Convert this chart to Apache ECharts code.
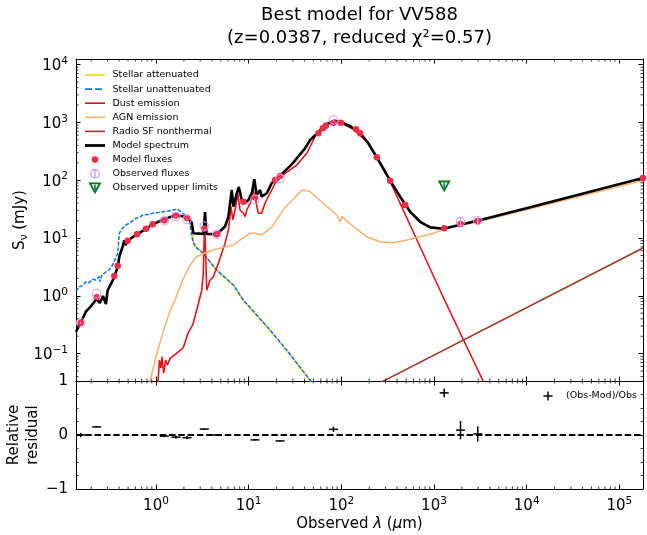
<!DOCTYPE html>
<html><head><meta charset="utf-8">
<script src="https://cdn.jsdelivr.net/npm/echarts@6/dist/echarts.min.js"></script>
<style>html,body{margin:0;padding:0;background:#fff}#c{width:647px;height:535px}</style>
</head><body><div id="c"></div>
<script>
const X_MIN = 0.137, X_MAX = 1.8e5, Y_MIN = 0.0336, Y_MAX = 1.25e4;

const stellarAttenuated = [[0.137,0.239],[0.154,0.343],[0.175,0.531],[0.199,0.666],[0.229,0.881],[0.248,0.751],[0.268,0.993],[0.288,0.721],[0.301,1.25],[0.355,2.11],[0.386,3.19],[0.402,4.75],[0.436,7.08],[0.494,8.98],[0.623,11.6],[0.78,14.4],[0.921,17.3],[1.23,21.1],[1.64,25.0],[2.16,22.9],[2.35,20.0],[2.45,15.0],[2.55,7.75],[3.24,5.38],[4.52,2.75],[6.84,1.51],[8.77,0.831],[17.0,0.25],[25.8,0.1125],[46,0.0338],[50,0.0275]];
const stellarUnattenuated = [[0.137,1.18],[0.149,1.44],[0.162,1.5],[0.175,1.75],[0.19,1.69],[0.207,1.94],[0.225,1.88],[0.244,2.14],[0.248,1.75],[0.258,2.2],[0.27,2.13],[0.288,2.61],[0.31,2.75],[0.34,3.41],[0.386,5.44],[0.402,12.1],[0.436,14.8],[0.474,16.8],[0.515,18.0],[0.56,20.0],[0.608,21.9],[0.66,22.8],[0.718,25.0],[0.82,25.6],[0.921,26.8],[1.05,27.5],[1.18,28.5],[1.35,29.4],[1.51,30.5],[1.71,31.4],[1.94,26.8],[2.29,21.9],[2.43,10.5],[2.64,7.08],[3.24,5.44],[4.52,2.79],[6.84,1.54],[8.77,0.845],[17.0,0.256],[25.8,0.115],[46.0,0.0349],[50,0.0288]];
const dustEmission = [[1.05,0.0313],[1.09,0.0775],[1.13,0.0563],[1.16,0.0883],[1.21,0.0461],[1.27,0.0775],[1.33,0.0635],[1.42,0.083],[1.66,0.101],[1.96,0.125],[2.22,0.228],[2.49,0.313],[2.75,0.568],[3.12,1.26],[3.24,2.45],[3.34,19.6],[3.44,4.75],[3.53,1.25],[3.83,1.88],[4.16,2.14],[4.71,3.65],[5.56,8.1],[6.04,13.8],[6.46,34.9],[6.73,20.5],[7.13,30.5],[7.63,59.4],[8.07,30.5],[8.77,26.8],[9.15,23.4],[9.54,30.5],[10.4,39.9],[11.2,67.8],[11.9,45.5],[12.7,26.8],[13.8,26.8],[15.0,39.9],[17.0,59.4],[19.3,88.5],[21.8,108],[24.7,131],[33.0,183],[42.4,293],[54.3,649],[66.8,901],[82.2,1028],[101,965],[135,760],[188,464],[242,239],[337,94.1],[1298,0.845],[4045,0.0185]];
const agnEmission = [[0.84,0.0275],[0.861,0.0335],[1.0,0.0883],[1.18,0.224],[1.39,0.498],[1.64,0.935],[1.94,1.88],[2.29,3.19],[2.66,4.6],[3.53,5.73],[4.91,6.64],[6.84,7.56],[8.07,9.24],[10.4,12.1],[11.7,12.1],[13.8,11.3],[17.7,15.3],[24.7,33.8],[33.0,54.4],[37.6,66.9],[42,66.3],[46,63.3],[64.1,39.9],[89.3,25.0],[97,19.1],[101,23.4],[135,15.8],[188,10.5],[262,8.63],[366,8.3],[508,9.24],[709,10.5],[988,12.1],[1377,14.8],[3155,19.4],[1.8e5,98.8]];
const radioNonthermal = [[200,0.0251],[1.8e5,6.71]];
const modelSpectrum = [[0.137,0.239],[0.154,0.343],[0.175,0.531],[0.199,0.666],[0.229,0.881],[0.248,0.751],[0.268,0.993],[0.288,0.721],[0.301,1.25],[0.355,2.11],[0.386,3.19],[0.402,4.75],[0.436,7.08],[0.455,9.13],[0.47,7.5],[0.494,8.98],[0.623,11.6],[0.78,14.4],[0.921,17.3],[1.23,21.1],[1.64,25.0],[2.16,22.9],[2.43,18.5],[2.53,12.1],[3.26,11.8],[3.38,28.1],[3.51,11.8],[4.52,11.6],[5.56,15.8],[6.04,23.4],[6.57,67.8],[6.84,34.9],[7.44,59.4],[7.83,76.3],[8.42,45.5],[8.99,39.9],[9.93,45.5],[10.9,62.5],[11.5,104],[12.2,55.5],[13.3,67.8],[13.8,51.9],[15.7,59.4],[17.7,88.5],[21.8,120],[29.2,188],[33.0,238],[40.6,356],[46.0,496],[56.6,675],[69.7,938],[85.7,1071],[101,989],[124,866],[160,649],[196,435],[242,249],[337,98],[431,51.9],[553,28.5],[709,19.1],[910,15.3],[1267,14.5],[1919,17.0],[3155,20.5],[10940,34.0],[1.8e5,109]];

const modelFluxWl = [0.154,0.229,0.355,0.386,0.494,0.623,0.780,0.921,1.23,1.64,2.16,3.32,4.52,8.77,11.7,19.3,21.8,56.6,63.1,68.0,82.2,98.8,144.5,159.7,241.8,336.6,488.6,1288,1932,2965,1.8e5];
const modelFlux   = [0.343,0.941,2.2,3.31,8.98,11.6,14.4,17.3,20.3,24.5,22.1,14.4,11.6,42.5,50.6,101,118,649,790,878,989,989,760,649,249,98,37.3,14.8,17.5,19.6,109];

const obsWl   = [0.154,0.229,1.23,1.64,2.16,3.32,4.52,11.7,21.8,82.2,1932,2965];
const obsFlux = [0.343,1.09,19.9,23.5,21.1,16.1,11.6,46.5,107,1105,19.3,20.0];
const obsRelErr = [0.03,0.02,0.02,0.03,0.03,0.02,0.02,0.02,0.03,0.05,0.17,0.14];

const upperLimits = [[1288,79.4]];

const resWl  = [0.154,0.229,1.23,1.64,2.16,3.32,4.52,11.7,21.8,82.2,1288,1932,2965];
const resVal = [0.0,0.15,-0.02,-0.04,-0.05,0.11,0.0,-0.09,-0.11,0.105,0.78,0.09,0.02];
const resErr = [0.04,0.01,0.02,0.03,0.03,0.01,0.01,0.01,0.01,0.05,0.08,0.17,0.14];

const legendNames = ['Stellar attenuated','Stellar unattenuated','Dust emission','AGN emission','Radio SF nonthermal','Model spectrum','Model fluxes','Observed fluxes','Observed upper limits'];
const residualLegend = '(Obs-Mod)/Obs';
const titleLines = ['Best model for VV588','(z=0.0387, reduced χ²=0.57)'];

const FONT = '"DejaVu Sans", sans-serif';
const TICK_FS = 15, SUP_FS = 10.5, LABEL_FS = 15, TITLE_FS = 18;
const C = {att:'#FFD700', unatt:'#0d75f8', dust:'#ff000d', agn:'#ffb16d', radio:'#a03623', model:'#000000', mflux:'#fb2943', obs:'#caa0ff', up:'#008000', upErr:'#1f77b4'};

function logMinor(lo, hi){ const out=[]; for(let k=-3;k<=6;k++){ for(let m=2;m<=9;m++){ const v=m*Math.pow(10,k); if(v>lo&&v<hi) out.push(v);} } return out; }
const xMinorTicks = logMinor(X_MIN, X_MAX);
const yMinorTicks = logMinor(Y_MIN, Y_MAX);

function logLabel(v){
  const e=Math.log10(v), r=Math.round(e);
  if(Math.abs(e-r)>1e-6) return '';
  return '{b|10}{s|'+(r<0?'\u2212'+(-r):r)+'}';
}
const richLab = {b:{fontSize:TICK_FS,fontFamily:FONT,color:'#000',lineHeight:21}, s:{fontSize:SUP_FS,fontFamily:FONT,color:'#000',verticalAlign:'top',lineHeight:11}};

function baseX(grid, pos, labels){
  return {type:'log', gridIndex:grid, position:pos, min:X_MIN, max:X_MAX, logBase:10,
    axisLine:{show:true,onZero:false,lineStyle:{color:'#000',width:1}},
    axisTick:{show:true,inside:true,length:4.5,lineStyle:{color:'#000',width:1}},
    minorTick:{show:false}, splitLine:{show:false},
    axisLabel:{show:labels, formatter:logLabel, rich:richLab, margin:7, color:'#000'}};
}
const xAxes = [baseX(0,'bottom',false), baseX(0,'top',false), baseX(1,'bottom',true), baseX(1,'top',false)];
const yAxes = [
  {type:'log', gridIndex:0, position:'left', min:Y_MIN, max:Y_MAX, logBase:10,
   axisLine:{show:true,onZero:false,lineStyle:{color:'#000',width:1}},
   axisTick:{show:true,inside:true,length:4.5,lineStyle:{color:'#000'}}, splitLine:{show:false},
   axisLabel:{show:true,formatter:logLabel,rich:richLab,margin:8,color:'#000',padding:[3,0,0,0]}},
  {type:'log', gridIndex:0, position:'right', min:Y_MIN, max:Y_MAX, logBase:10,
   axisLine:{show:true,onZero:false,lineStyle:{color:'#000',width:1}},
   axisTick:{show:true,inside:true,length:4.5,lineStyle:{color:'#000'}}, splitLine:{show:false}, axisLabel:{show:false}},
  {type:'value', gridIndex:1, position:'left', min:-1, max:1, interval:1,
   axisLine:{show:true,onZero:false,lineStyle:{color:'#000',width:1}},
   axisTick:{show:true,inside:true,length:4.5,lineStyle:{color:'#000'}},
   minorTick:{show:true,splitNumber:4,length:2.5,lineStyle:{color:'#000',width:0.8}}, splitLine:{show:false},
   axisLabel:{show:true,margin:8,color:'#000',fontSize:TICK_FS,fontFamily:FONT,formatter:v=>v<0?'\u2212'+(-v):String(v)}},
  {type:'value', gridIndex:1, position:'right', min:-1, max:1, interval:1,
   axisLine:{show:true,onZero:false,lineStyle:{color:'#000',width:1}},
   axisTick:{show:true,inside:true,length:4.5,lineStyle:{color:'#000'}},
   minorTick:{show:true,splitNumber:4,length:2.5,lineStyle:{color:'#000',width:0.8}}, splitLine:{show:false}, axisLabel:{show:false}}
];

function lineSeries(name, data, color, width, type){
  return {name, type:'line', xAxisIndex:0, yAxisIndex:0, data, symbol:'none', showSymbol:false, clip:true,
    lineStyle:{color, width, type:type||'solid'}, itemStyle:{color}, z:2, silent:true};
}
function minorX(xi, yi, lo, hi){
  return {type:'custom', xAxisIndex:xi, yAxisIndex:yi, silent:true, z:20, clip:false,
    data: xMinorTicks.map(v=>[v, lo]),
    renderItem(p, api){
      const v=api.value(0); const b=api.coord([v,lo]), t=api.coord([v,hi]);
      const st={stroke:'#000',lineWidth:0.8};
      return {type:'group',children:[
        {type:'line',shape:{x1:b[0],y1:b[1],x2:b[0],y2:b[1]-2.5},style:st},
        {type:'line',shape:{x1:t[0],y1:t[1],x2:t[0],y2:t[1]+2.5},style:st}]};
    }};
}
function minorY(){
  return {type:'custom', xAxisIndex:0, yAxisIndex:0, silent:true, z:20, clip:false,
    data: yMinorTicks.map(v=>[X_MIN, v]),
    renderItem(p, api){
      const v=api.value(1); const l=api.coord([X_MIN,v]), r=api.coord([X_MAX,v]);
      const st={stroke:'#000',lineWidth:0.8};
      return {type:'group',children:[
        {type:'line',shape:{x1:l[0],y1:l[1],x2:l[0]+2.5,y2:l[1]},style:st},
        {type:'line',shape:{x1:r[0],y1:r[1],x2:r[0]-2.5,y2:r[1]},style:st}]};
    }};
}

const series = [
  lineSeries('Stellar attenuated', stellarAttenuated, C.att, 1.5),
  lineSeries('Stellar unattenuated', stellarUnattenuated, C.unatt, 1.5, [4,1.6]),
  lineSeries('Dust emission', dustEmission, C.dust, 1.5),
  lineSeries('AGN emission', agnEmission, C.agn, 1.5),
  lineSeries('Radio SF nonthermal', radioNonthermal, C.radio, 1.5),
  lineSeries('Model spectrum', modelSpectrum, C.model, 2.6),
  {name:'Model fluxes', type:'scatter', xAxisIndex:0, yAxisIndex:0, symbol:'circle', symbolSize:6.5,
   itemStyle:{color:C.mflux, opacity:1}, data: modelFluxWl.map((w,i)=>[w, modelFlux[i]]), z:5, silent:true, clip:false},
  {name:'obsErr', type:'custom', xAxisIndex:0, yAxisIndex:0, silent:true, z:6,
   data: obsWl.map((w,i)=>[w, obsFlux[i], obsFlux[i]*obsRelErr[i]]),
   renderItem(p, api){
     const x=api.value(0), y=api.value(1), e=api.value(2);
     const a=api.coord([x,y-e]), b=api.coord([x,y+e]);
     return {type:'line',shape:{x1:a[0],y1:a[1],x2:b[0],y2:b[1]},style:{stroke:C.obs,lineWidth:1.3}};
   }},
  {name:'Observed fluxes', type:'scatter', xAxisIndex:0, yAxisIndex:0, symbol:'circle', symbolSize:8.5,
   itemStyle:{color:'rgba(0,0,0,0)', borderColor:C.obs, borderWidth:1.3}, data: obsWl.map((w,i)=>[w, obsFlux[i]]), z:7, silent:true},
  {name:'Observed upper limits', type:'custom', xAxisIndex:0, yAxisIndex:0, silent:true, z:8, data: upperLimits,
   renderItem(p, api){
     const c=api.coord([api.value(0), api.value(1)]);
     return {type:'group',children:[
       {type:'polygon',shape:{points:[[c[0]-5,c[1]-4.5],[c[0]+5,c[1]-4.5],[c[0],c[1]+4.5]]},style:{fill:'none',stroke:C.up,lineWidth:1.8}},
       {type:'line',shape:{x1:c[0],y1:c[1]-3,x2:c[0],y2:c[1]+3},style:{stroke:C.upErr,lineWidth:1.8}}]};
   }},
  {name:'zero', type:'line', xAxisIndex:2, yAxisIndex:2, data:[[X_MIN,0],[X_MAX,0]], symbol:'none',
   lineStyle:{color:'#000', width:2, type:[6.5,2.8]}, z:2, silent:true},
  {name:residualLegend, type:'custom', xAxisIndex:2, yAxisIndex:2, silent:true, z:6,
   data: resWl.map((w,i)=>[w, resVal[i], resErr[i]]),
   renderItem(p, api){
     const x=api.value(0), r=api.value(1), e=api.value(2);
     const c=api.coord([x,r]), a=api.coord([x,r-e]), b=api.coord([x,r+e]);
     const st={stroke:'#000',lineWidth:1.5};
     return {type:'group',children:[
       {type:'line',shape:{x1:c[0]-4.5,y1:c[1],x2:c[0]+4.5,y2:c[1]},style:st},
       {type:'line',shape:{x1:a[0],y1:a[1],x2:b[0],y2:b[1]},style:st}]};
   }},
  minorX(0,0,Y_MIN,Y_MAX), minorX(2,2,-1,1), minorY()
];

const G = [];
function txt(x,y,text,size,opts){
  return Object.assign({type:'text', x, y, silent:true, z:50,
    style:Object.assign({text, fontSize:size, fontFamily:FONT, fill:'#000', align:'left', textAlign:'left', verticalAlign:'middle', textVerticalAlign:'middle'}, opts||{})});
}
G.push(txt(359.5,15,titleLines[0],TITLE_FS,{align:'center',textAlign:'center'}));
G.push(txt(359.5,38,titleLines[1],TITLE_FS,{align:'center',textAlign:'center'}));
G.push({type:'text', x:20, y:220, rotation:Math.PI/2, silent:true, z:50,
  style:{text:'{a|S}{b|\u03bd}{a| (mJy)}', align:'center', textAlign:'center', verticalAlign:'middle', textVerticalAlign:'middle',
    rich:{a:{fontSize:LABEL_FS,fontFamily:FONT,fill:'#000',lineHeight:19}, b:{fontSize:10.5,fontFamily:FONT,fill:'#000',verticalAlign:'bottom',lineHeight:12}}}});
G.push({type:'text', x:23.5, y:435, rotation:Math.PI/2, silent:true, z:50,
  style:{text:'Relative\nresidual', fontSize:LABEL_FS, fontFamily:FONT, fill:'#000', lineHeight:18.5, align:'center', textAlign:'center', verticalAlign:'middle', textVerticalAlign:'middle'}});
G.push({type:'text', x:359.5, y:524, silent:true, z:50,
  style:{text:'{a|Observed }{i|\u03bb}{a| (}{i|\u03bc}{a|m)}', align:'center', textAlign:'center', verticalAlign:'middle', textVerticalAlign:'middle',
    rich:{a:{fontSize:LABEL_FS,fontFamily:FONT,fill:'#000'}, i:{fontSize:LABEL_FS,fontFamily:FONT,fontStyle:'italic',fill:'#000'}}}});

const LX0=85, LX1=105, LCX=95, LTX=112.5, LY0=75, LDY=14.1;
legendNames.forEach((nm,i)=>{
  const y=LY0+i*LDY;
  const ln=(color,w,dash)=>({type:'line',silent:true,z:50,shape:{x1:LX0,y1:y,x2:LX1,y2:y},style:{stroke:color,lineWidth:w,lineDash:dash||null}});
  if(i===0) G.push(ln(C.att,1.6));
  if(i===1) G.push(ln(C.unatt,1.6,[7,3]));
  if(i===2) G.push(ln(C.dust,1.6));
  if(i===3) G.push(ln(C.agn,1.6));
  if(i===4) G.push(ln(C.radio,1.6));
  if(i===5) G.push(ln(C.model,2.8));
  if(i===6) G.push({type:'circle',silent:true,z:50,shape:{cx:LCX,cy:y,r:3.3},style:{fill:C.mflux}});
  if(i===7){ G.push({type:'circle',silent:true,z:50,shape:{cx:LCX,cy:y,r:4.2},style:{fill:'none',stroke:C.obs,lineWidth:1.3}});
             G.push({type:'line',silent:true,z:50,shape:{x1:LCX,y1:y-4.5,x2:LCX,y2:y+4.5},style:{stroke:C.obs,lineWidth:1.3}}); }
  if(i===8){ G.push({type:'polygon',silent:true,z:50,shape:{points:[[LCX-5,y-4.5],[LCX+5,y-4.5],[LCX,y+4.5]]},style:{fill:'none',stroke:C.up,lineWidth:1.8}});
             G.push({type:'line',silent:true,z:50,shape:{x1:LCX,y1:y-3,x2:LCX,y2:y+3},style:{stroke:C.upErr,lineWidth:1.8}}); }
  G.push(txt(LTX,y,nm,9.5));
});
G.push({type:'line',silent:true,z:50,shape:{x1:543.5,y1:396,x2:552.5,y2:396},style:{stroke:'#000',lineWidth:1.5}});
G.push({type:'line',silent:true,z:50,shape:{x1:548,y1:391.5,x2:548,y2:400.5},style:{stroke:'#000',lineWidth:1.5}});
G.push(txt(566,396,residualLegend,9.5));

const chart = echarts.init(document.getElementById('c'), null, {renderer:'canvas'});
chart.setOption({
  animation:false, backgroundColor:'#fff',
  grid:[{left:76,right:4,top:59,height:322,containLabel:false},{left:76,right:4,top:381,height:108,containLabel:false}],
  xAxis:xAxes, yAxis:yAxes, series, graphic:G
});
</script></body></html>
